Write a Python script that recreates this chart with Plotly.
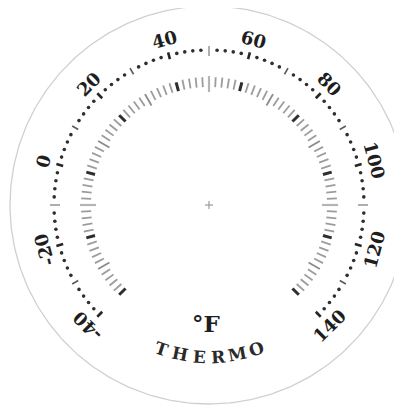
import numpy as np
import plotly.graph_objects as go

# ---- data ----
label_values = [-40, -20, 0, 20, 40, 60, 80, 100, 120, 140]
t_min, t_max = -40, 140
minor_step = 2          # dots / minor ticks every 2 °F
medium_step = 10        # small ticks every 10 °F
cardinal_values = [-10, 50, 110]
unit_text = "°F"
brand_text = "THERMO"

# ---- scale: temperature -> angle (deg, clockwise from top) ----
SWEEP = 270.0
def t2a(t):
    return (np.asarray(t, dtype=float) - (t_min + t_max) / 2) * SWEEP / (t_max - t_min)

def pol(r, a_deg):
    a = np.radians(a_deg)
    return r * np.sin(a), r * np.cos(a)

def segs(temps, r0, r1):
    xs, ys = [], []
    for t in temps:
        a = t2a(t)
        x0, y0 = pol(r0, a)
        x1, y1 = pol(r1, a)
        xs += [x0, x1, None]
        ys += [y0, y1, None]
    return xs, ys

all_t = np.arange(t_min, t_max + 0.001, minor_step)
med_t = [t for t in all_t if t % medium_step == 0 and t not in label_values and t not in cardinal_values]
minor_t = [t for t in all_t if t % medium_step != 0]

fig = go.Figure()

# outer bezel circle
th = np.linspace(0, 360, 361)
cx, cy = pol(199, th)
fig.add_trace(go.Scatter(x=cx, y=cy, mode="lines", line=dict(color="#d0d0d0", width=1.3), hoverinfo="skip"))

def add_lines(xs, ys, color, width):
    fig.add_trace(go.Scatter(x=xs, y=ys, mode="lines", line=dict(color=color, width=width), hoverinfo="skip"))

# ---- inner tick ring ----
x, y = segs(minor_t, 118, 128); add_lines(x, y, "#9c9c9c", 1.8)
x, y = segs(med_t, 115, 128); add_lines(x, y, "#8c8c8c", 1.9)
x, y = segs(cardinal_values, 113, 129); add_lines(x, y, "#b4b4b4", 2.2)
x, y = segs(label_values, 118, 127); add_lines(x, y, "#2e2e2e", 3.0)

# ---- outer dotted ring ----
dx, dy = pol(155, t2a(minor_t))
fig.add_trace(go.Scatter(x=dx, y=dy, mode="markers", marker=dict(size=3.6, color="#2e2e2e"), hoverinfo="skip"))
x, y = segs(med_t, 151, 158); add_lines(x, y, "#5a5a5a", 1.6)
x, y = segs(label_values, 151, 158); add_lines(x, y, "#262626", 2.6)
x, y = segs(cardinal_values, 149, 159); add_lines(x, y, "#aaaaaa", 1.9)

# center cross
x = [-4, 4, None, 0, 0]; y = [0, 0, None, -4, 4]
add_lines(x, y, "#9a9a9a", 1.2)

ann = []
serif = "DejaVu Serif"
for v in label_values:
    a = float(t2a(v))
    lx, ly = pol(171, a)
    rot = a - 180 if a > 90 else a
    ann.append(dict(x=lx, y=ly, text=str(v), showarrow=False, textangle=rot,
                    font=dict(family=serif, size=18, color="#1e1e1e", weight="bold"),
                    xanchor="center", yanchor="middle"))

ann.append(dict(x=-3, y=-118, text=unit_text, showarrow=False,
                font=dict(family=serif, size=23, color="#1e1e1e", weight="bold"),
                xanchor="center", yanchor="middle"))

step = 7.3
n = len(brand_text)
for i, ch in enumerate(brand_text):
    phi = (i - (n - 1) / 2) * step
    r = 152
    px, py = r * np.sin(np.radians(phi)), -r * np.cos(np.radians(phi))
    ann.append(dict(x=px, y=py, text=ch, showarrow=False, textangle=-phi,
                    font=dict(family=serif, size=17, color="#2a2a2a", weight="bold"),
                    xanchor="center", yanchor="middle"))

# page body has an 8px offset: figure sized/placed so the dial centre lands at (209, 205)
fig.update_layout(
    width=394, height=399,
    margin=dict(l=0, r=0, t=0, b=0),
    paper_bgcolor="white", plot_bgcolor="white",
    showlegend=False,
    annotations=ann,
    xaxis=dict(range=[-201, 193], visible=False, fixedrange=True),
    yaxis=dict(range=[-202, 197], visible=False, fixedrange=True),
)
fig.write_html("out.html")
